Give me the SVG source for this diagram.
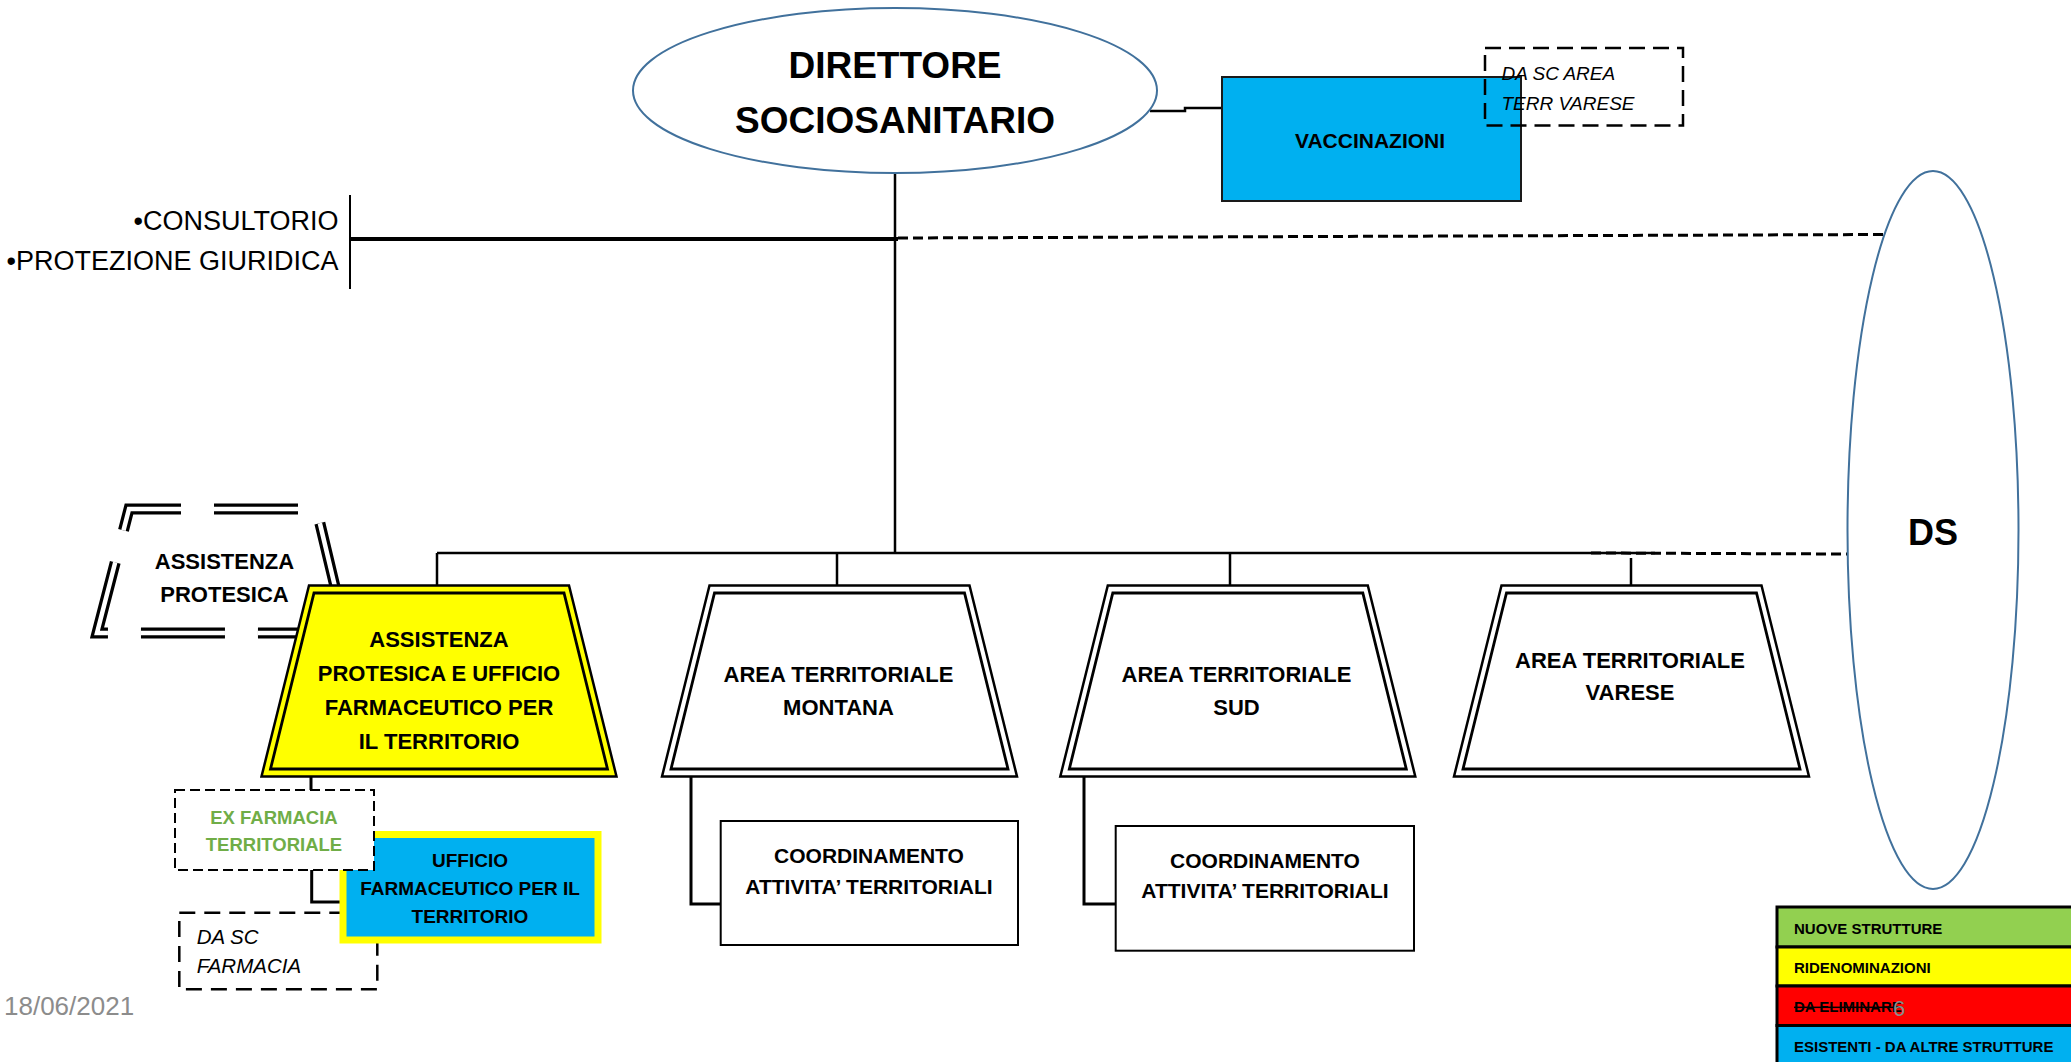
<svg xmlns="http://www.w3.org/2000/svg" width="2071" height="1062" viewBox="0 0 2071 1062">
<style>
text{font-family:"Liberation Sans",Arial,sans-serif;fill:#000;}
.b{font-weight:bold;}
.i{font-style:italic;}
.c{text-anchor:middle;}
.ln{stroke:#000;stroke-width:2.5;fill:none;}
.thk{stroke:#000;stroke-width:3;fill:none;}
.dl{stroke:#000;stroke-width:3;fill:none;stroke-dasharray:10 5;}
.ell{fill:#fff;stroke:#41719c;stroke-width:2;}
.tro{stroke:#000;stroke-width:2.5;}
.tri{stroke:#000;stroke-width:2.8;}
.lg{stroke:#000;stroke-width:3;}
.lt{font-size:15px;font-weight:bold;}
</style>
<defs>
<polygon id="trO" points="-130,0 130,0 177.5,191 -177.5,191"/>
<polygon id="trI" points="-125,7.5 125,7.5 168.5,183.5 -168.5,183.5"/>
</defs>
<rect width="2071" height="1062" fill="#fff"/>

<g id="connectors">
<path class="ln" d="M895 173 V553"/>
<path d="M350 239 H898" stroke="#000" stroke-width="4" fill="none"/>
<path d="M350 195 V289" stroke="#000" stroke-width="2" fill="none"/>
<path class="dl" d="M898 238 L1883 234.5"/>
<path class="ln" d="M437 553 H1655"/>
<path class="ln" d="M437 553 V586 M837 553 V585 M1230 553 V585 M1631 558 V585"/>
<path class="dl" d="M1591 553 L1847 554"/>
<path class="ln" d="M1150 111 H1185 V108 H1222"/>
<path class="thk" d="M311 776 V790"/>
<path class="thk" d="M311.7 870 V902 H343"/>
<path class="thk" d="M691 777 V904 H721"/>
<path class="thk" d="M1084 777 V904 H1116"/>
</g>

<g id="direttore">
<ellipse class="ell" cx="895" cy="90.5" rx="262" ry="82.5"/>
<text class="b c" x="895" y="78" font-size="37">DIRETTORE</text>
<text class="b c" x="895" y="133" font-size="37">SOCIOSANITARIO</text>
</g>

<g id="vaccinazioni">
<rect x="1222" y="77" width="299" height="124" fill="#00b0f0" stroke="#1a1a1a" stroke-width="2"/>
<text class="b c" x="1370" y="148" font-size="21">VACCINAZIONI</text>
</g>

<g id="da-sc-area">
<rect x="1485" y="48" width="198" height="77.5" fill="none" stroke="#000" stroke-width="2.5" stroke-dasharray="16 8"/>
<text class="i" x="1501.5" y="79.5" font-size="19">DA SC AREA</text>
<text class="i" x="1501.5" y="109.5" font-size="19">TERR VARESE</text>
</g>

<g id="consultorio">
<text x="338.6" y="230" font-size="27" text-anchor="end">•CONSULTORIO</text>
<text x="338.6" y="270" font-size="27" text-anchor="end">•PROTEZIONE GIURIDICA</text>
</g>

<g id="ds">
<ellipse class="ell" cx="1933" cy="530" rx="85.5" ry="359"/>
<text class="b c" x="1933" y="545" font-size="36">DS</text>
</g>

<g id="assistenza-protesica-old">
<polygon points="129,509 316.5,509 346,633 97,633" fill="none" stroke="#000" stroke-width="11" stroke-dasharray="84 33" stroke-dashoffset="32" stroke-linejoin="miter"/>
<polygon points="129,509 316.5,509 346,633 97,633" fill="none" stroke="#fff" stroke-width="4.5" stroke-dasharray="84 33" stroke-dashoffset="32" stroke-linejoin="miter"/>
<text class="b c" x="224.5" y="569" font-size="22">ASSISTENZA</text>
<text class="b c" x="224.5" y="602" font-size="22">PROTESICA</text>
</g>

<g id="assistenza-farmaceutico">
<use href="#trO" x="439" y="585.5" fill="#ffff00" class="tro"/>
<use href="#trI" x="439" y="585.5" fill="#ffff00" class="tri"/>
<text class="b c" x="439" y="647" font-size="22">ASSISTENZA</text>
<text class="b c" x="439" y="681" font-size="22">PROTESICA E UFFICIO</text>
<text class="b c" x="439" y="715" font-size="22">FARMACEUTICO PER</text>
<text class="b c" x="439" y="748.5" font-size="22">IL TERRITORIO</text>
</g>

<g id="area-montana">
<use href="#trO" x="839.5" y="585.5" fill="#fff" class="tro"/>
<use href="#trI" x="839.5" y="585.5" fill="#fff" class="tri"/>
<text class="b c" x="838.5" y="682" font-size="22">AREA TERRITORIALE</text>
<text class="b c" x="838.5" y="714.5" font-size="22">MONTANA</text>
</g>

<g id="area-sud">
<use href="#trO" x="1237.8" y="585.5" fill="#fff" class="tro"/>
<use href="#trI" x="1237.8" y="585.5" fill="#fff" class="tri"/>
<text class="b c" x="1236.5" y="682" font-size="22">AREA TERRITORIALE</text>
<text class="b c" x="1236.5" y="714.5" font-size="22">SUD</text>
</g>

<g id="area-varese">
<use href="#trO" x="1631.5" y="585.5" fill="#fff" class="tro"/>
<use href="#trI" x="1631.5" y="585.5" fill="#fff" class="tri"/>
<text class="b c" x="1630" y="667.5" font-size="22">AREA TERRITORIALE</text>
<text class="b c" x="1630" y="700" font-size="22">VARESE</text>
</g>

<g id="da-sc-farmacia">
<rect x="179.3" y="912.7" width="198" height="76.6" fill="#fff" stroke="#000" stroke-width="2.5" stroke-dasharray="16 9"/>
<text class="i" x="196.7" y="943.5" font-size="20.5">DA SC</text>
<text class="i" x="196.7" y="973" font-size="20.5">FARMACIA</text>
</g>

<g id="ufficio-farmaceutico">
<rect x="343" y="834.5" width="255" height="105.5" fill="#00b0f0" stroke="#ffff00" stroke-width="7"/>
<text class="b c" x="470" y="867" font-size="19">UFFICIO</text>
<text class="b c" x="470" y="895" font-size="19">FARMACEUTICO PER IL</text>
<text class="b c" x="470" y="922.5" font-size="19">TERRITORIO</text>
</g>

<g id="ex-farmacia">
<rect x="175" y="790" width="199" height="80" fill="#fff" stroke="#000" stroke-width="2" stroke-dasharray="10 5"/>
<text class="b c" x="274" y="823.5" font-size="18.5" style="fill:#70ad47">EX FARMACIA</text>
<text class="b c" x="274" y="851" font-size="18.5" style="fill:#70ad47">TERRITORIALE</text>
</g>

<g id="coord-montana">
<rect x="720.7" y="821" width="297.3" height="124" fill="#fff" stroke="#000" stroke-width="2"/>
<text class="b c" x="869" y="863" font-size="21">COORDINAMENTO</text>
<text class="b c" x="869" y="893.5" font-size="21">ATTIVITA’ TERRITORIALI</text>
</g>

<g id="coord-sud">
<rect x="1115.7" y="826" width="298.3" height="124.7" fill="#fff" stroke="#000" stroke-width="2"/>
<text class="b c" x="1265" y="867.5" font-size="21">COORDINAMENTO</text>
<text class="b c" x="1265" y="897.5" font-size="21">ATTIVITA’ TERRITORIALI</text>
</g>

<g id="legend">
<rect class="lg" x="1777" y="907" width="300" height="40" fill="#92d050"/>
<rect class="lg" x="1777" y="947" width="300" height="39" fill="#ffff00"/>
<rect class="lg" x="1777" y="986" width="300" height="39.5" fill="#ff0000"/>
<rect class="lg" x="1777" y="1025.5" width="300" height="40" fill="#00b0f0"/>
<text class="lt" x="1794" y="934">NUOVE STRUTTURE</text>
<text class="lt" x="1794" y="973">RIDENOMINAZIONI</text>
<text class="lt" x="1794" y="1012" text-decoration="line-through" style="text-decoration:line-through">DA ELIMINARE</text>
<text class="lt" x="1794" y="1051.5">ESISTENTI - DA ALTRE STRUTTURE</text>
</g>

<text x="4" y="1015" font-size="26" style="fill:#8c8c8c">18/06/2021</text>
<text x="1893" y="1016" font-size="22" style="fill:#8c8c8c">6</text>
</svg>
